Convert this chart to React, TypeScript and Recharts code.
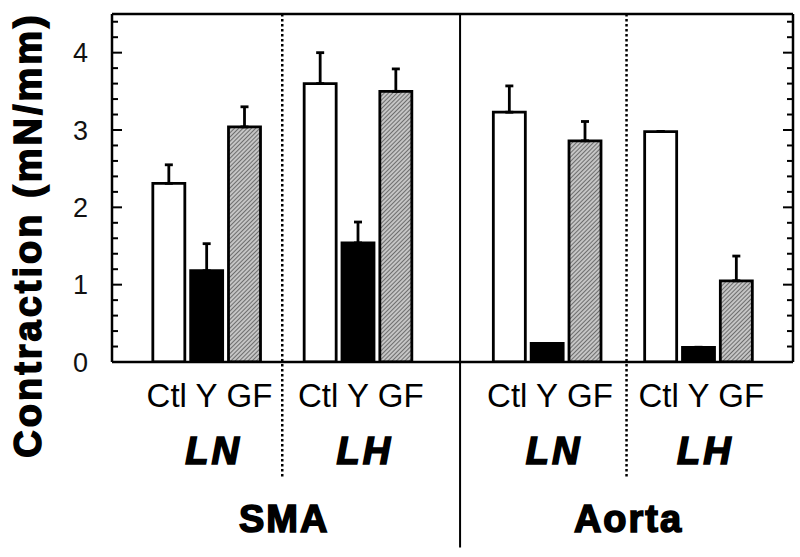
import React from "react";
import {
  ComposedChart,
  Bar,
  Cell,
  ErrorBar,
  XAxis,
  YAxis,
  ReferenceLine,
  Label,
} from "recharts";

// bar order inside each group
const conditions = ["Ctl", "Y", "GF"];
const diets = ["LN", "LH", "LN", "LH"];
const vessels = ["SMA", "Aorta"];

// x position of every bar, in bar slots (gaps left between groups)
const barSlots = [1.5, 2.5, 3.5, 5.5, 6.5, 7.5, 10.5, 11.5, 12.5, 14.5, 15.5, 16.5];
const means = [2.31, 1.18, 3.04, 3.6, 1.54, 3.5, 3.23, 0.24, 2.86, 2.98, 0.19, 1.05];
const sems = [0.24, 0.35, 0.26, 0.4, 0.27, 0.29, 0.34, 0, 0.25, 0, 0, 0.32];

const yTicks = [0, 0.2, 0.4, 0.6, 0.8, 1, 1.2, 1.4, 1.6, 1.8, 2, 2.2, 2.4, 2.6, 2.8, 3, 3.2, 3.4, 3.6, 3.8, 4, 4.2, 4.4];
const dietDividers = [4.5, 13.6];
const vesselDivider = 9.2;

const FONT = '"Liberation Sans", Arial, Helvetica, sans-serif';
const condFills = ["#ffffff", "#000000", "url(#hatch)"];
const condNudge = [-2, 0, 5]; // labels sit a little wider than the bars

const rows = barSlots.map((pos, i) => ({
  pos,
  mean: means[i],
  err: [0, sems[i]],
}));

const LeftTick = ({ x, y, payload }: any) => {
  const major = Number.isInteger(payload.value);
  return (
    <g>
      <line x1={x} x2={x + (major ? 10 : 6)} y1={y} y2={y} stroke="#000" strokeWidth={2} />
      {major && (
        <text x={x - 24} y={y} dy="0.36em" textAnchor="end" fontSize={27} fontFamily={FONT} fill="#111">
          {payload.value}
        </text>
      )}
    </g>
  );
};

const RightTick = ({ x, y, payload }: any) => {
  const major = Number.isInteger(payload.value);
  return <line x1={x} x2={x - (major ? 10 : 6)} y1={y} y2={y} stroke="#000" strokeWidth={2} />;
};

const BottomTick = ({ x, y, index }: any) => {
  const k = index % 3;
  const diet = k === 1 ? diets[Math.floor(index / 3)] : null;
  return (
    <g fontFamily={FONT}>
      <text x={x + condNudge[k]} y={y + 45} textAnchor="middle" fontSize={33} fill="#000">
        {conditions[k]}
      </text>
      {diet && (
        <text
          x={x + 7}
          y={y + 102}
          textAnchor="middle"
          fontSize={38}
          fontWeight="bold"
          fontStyle="italic"
          letterSpacing={3}
          stroke="#000"
          strokeWidth={1.6}
          fill="#000"
        >
          {diet}
        </text>
      )}
    </g>
  );
};

const YTitle = ({ viewBox }: any) => {
  const cx = viewBox.x + 28;
  const cy = viewBox.y + viewBox.height / 2 + 47;
  return (
    <text
      x={cx}
      y={cy}
      transform={`rotate(-90 ${cx} ${cy})`}
      textAnchor="middle"
      dominantBaseline="central"
      fontFamily={FONT}
      fontSize={38}
      fontWeight="bold"
      letterSpacing={3}
      stroke="#000"
      strokeWidth={1.5}
      fill="#000"
    >
      Contraction (mN/mm)
    </text>
  );
};

const vesselLabel = (name: string) => ({ viewBox }: any) => (
  <text
    x={viewBox.x + 2}
    y={viewBox.y + viewBox.height + 54}
    textAnchor="middle"
    fontFamily={FONT}
    fontSize={38}
    fontWeight="bold"
    letterSpacing={2}
    stroke="#000"
    strokeWidth={1.6}
    fill="#000"
  >
    {name}
  </text>
);

export default function App() {
  return (
    <div style={{ position: "absolute", left: 0, top: 0, background: "#fff" }}>
      <svg width={0} height={0} style={{ position: "absolute" }}>
        <defs>
          <pattern id="hatch" width={3} height={3} patternUnits="userSpaceOnUse" patternTransform="rotate(45)">
            <rect width={3} height={3} fill="#d4d4d4" />
            <line x1={1.5} y1={0} x2={1.5} y2={3} stroke="#6e6e6e" strokeWidth={1.3} />
          </pattern>
        </defs>
      </svg>
      <ComposedChart
        width={800}
        height={557}
        data={rows}
        margin={{ top: 14, right: 6, bottom: 194, left: 0 }}
      >
        <XAxis
          type="number"
          dataKey="pos"
          domain={[0, 18]}
          allowDataOverflow
          ticks={barSlots}
          interval={0}
          tick={<BottomTick />}
          tickLine={false}
          tickSize={0}
          tickMargin={0}
          height={1}
          axisLine={{ stroke: "#000", strokeWidth: 2.5 }}
        />
        <YAxis
          type="number"
          domain={[0, 4.5]}
          allowDataOverflow
          ticks={yTicks}
          interval={0}
          tick={<LeftTick />}
          tickLine={false}
          tickSize={0}
          tickMargin={0}
          width={112}
          axisLine={{ stroke: "#000", strokeWidth: 2.5 }}
        >
          <Label content={<YTitle />} />
        </YAxis>
        <YAxis
          yAxisId="r"
          orientation="right"
          type="number"
          domain={[0, 4.5]}
          allowDataOverflow
          ticks={yTicks}
          interval={0}
          tick={<RightTick />}
          tickLine={false}
          tickSize={0}
          tickMargin={0}
          width={1}
          axisLine={{ stroke: "#000", strokeWidth: 2.5 }}
        />
        <ReferenceLine y={4.5} stroke="#000" strokeWidth={2.5} ifOverflow="visible" />
        {dietDividers.map((d, i) => (
          <ReferenceLine
            key={d}
            segment={[{ x: d, y: 4.5 }, { x: d, y: -1.5 }]}
            stroke="#000"
            strokeWidth={2.5}
            strokeDasharray="2.5 2.5"
            ifOverflow="visible"
            label={vesselLabel(vessels[i])}
          />
        ))}
        <ReferenceLine
          segment={[{ x: vesselDivider, y: 4.5 }, { x: vesselDivider, y: -2.4 }]}
          stroke="#000"
          strokeWidth={2}
          ifOverflow="visible"
        />
        <Bar dataKey="mean" barSize={32} stroke="#000" strokeWidth={2.8} isAnimationActive={false}>
          {rows.map((_, i) => (
            <Cell key={i} fill={condFills[i % 3]} />
          ))}
          <ErrorBar dataKey="err" direction="y" width={4} stroke="#000" strokeWidth={2.8} />
        </Bar>
      </ComposedChart>
    </div>
  );
}
